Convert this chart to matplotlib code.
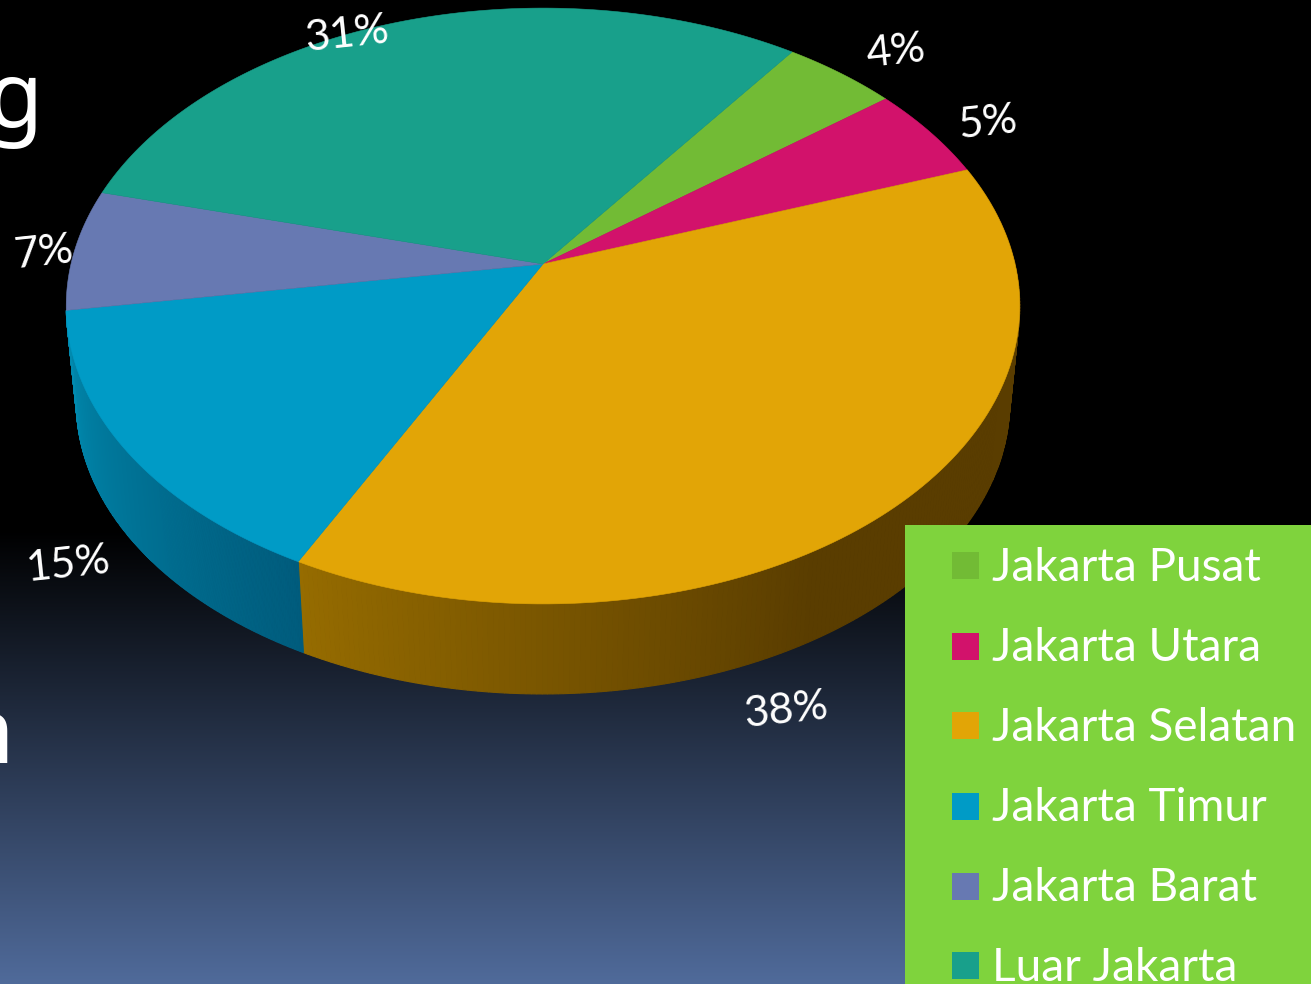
import numpy as np
import matplotlib
matplotlib.use("Agg")
import matplotlib.pyplot as plt
from matplotlib.patches import Polygon, Rectangle

plt.rcParams['font.family'] = ['Lato', 'DejaVu Sans']

categories = ['Jakarta Pusat', 'Jakarta Utara', 'Jakarta Selatan',
              'Jakarta Timur', 'Jakarta Barat', 'Luar Jakarta']
values = [4.47, 5.05, 37.97, 15.03, 6.55, 30.93]
pct_labels = ['4%', '5%', '38%', '15%', '7%', '31%']
colors = ['#72BB35', '#D2126B', '#E2A506', '#009BC6', '#6779B2', '#18A08B']

# where the percent labels sit, in pixels
label_x = [896, 988, 786, 68, 44, 347]
label_y = [52, 123, 711, 565, 253, 35]

START = 36.0   # degrees clockwise from the back of the pie
CX = 543
PERSP = 0.141


def project(theta, a, b, y0):
    # unit disc -> screen, with a little perspective so the centre sits high
    t = np.radians(theta)
    u, v = np.sin(t), np.cos(t)
    w = 1 + PERSP * v
    return CX + a * u / w, y0 - b * v / w


def top(theta):
    return project(theta, 472, 292, 264)


def bottom(theta):
    return project(theta, 462, 286, 361)


def side_color(i, theta):
    # rough shading read off the rim of the picture
    if i == 3:
        f = (theta - 207.0) / 54.0
        c0, c1 = np.array([0, 92, 125]), np.array([0, 138, 175])
    else:
        f = np.clip((theta - 150) / 57.0, 0, 1)
        c0, c1 = np.array([90, 61, 0]), np.array([150, 108, 0])
    return (c0 + (c1 - c0) * f) / 255


fig = plt.figure(figsize=(13.11, 9.84), dpi=100, facecolor='black')
ax = fig.add_axes([0, 0, 1, 1])

# background gradient
rows = np.arange(984)
frac = np.clip((rows - 530) / (984 - 530), 0, 1)
grad = np.zeros((984, 1, 3))
grad[:, 0, 0] = frac * 80 / 255
grad[:, 0, 1] = frac * 107 / 255
grad[:, 0, 2] = frac * 155 / 255
ax.imshow(grad, extent=(0, 1311, 984, 0), aspect='auto', zorder=0)

edges = START + np.cumsum([0] + values) * 3.6

# side wall, only orange and blue can be seen
for i in [2, 3]:
    th = np.linspace(edges[i], edges[i + 1], 240)
    for t0, t1 in zip(th[:-1], th[1:]):
        xa, ya = top(t0)
        xb, yb = top(t1)
        xc, yc = bottom(t1)
        xd, yd = bottom(t0)
        col = side_color(i, (t0 + t1) / 2)
        ax.add_patch(Polygon([(xa, ya), (xb, yb), (xc, yc), (xd, yd)],
                             facecolor=col, edgecolor=col, lw=0.8, zorder=2))

# top face
for i in range(len(values)):
    th = np.linspace(edges[i], edges[i + 1], 120)
    xs, ys = top(th)
    pts = [(CX, 264)] + list(zip(xs, ys))
    ax.add_patch(Polygon(pts, facecolor=colors[i], edgecolor=colors[i], lw=0.4, zorder=3))

# percent labels
for s, x, y in zip(pct_labels, label_x, label_y):
    ax.text(x, y, s, color='white', fontsize=31, rotation=6, ha='center', va='center', zorder=5)

# leftover letters from the slide behind the chart
ax.text(43, 127, 'g', color='white', fontsize=66, ha='right', va='baseline',
        family='Noto Sans', zorder=1)
ax.text(14, 763, 'n', color='white', fontsize=66, ha='right', va='baseline',
        family='Noto Sans', zorder=1)

# legend box, runs off the bottom of the picture
ax.add_patch(Rectangle((905, 525), 406, 459, facecolor='#7FD33D', edgecolor='none', zorder=6))
swatch_top = [552, 633, 712, 793, 873, 952]
baseline = [581, 661, 741, 821, 901, 981]
for name, col, sy, by in zip(categories, colors, swatch_top, baseline):
    ax.add_patch(Rectangle((952, sy), 27, 27, facecolor=col, edgecolor='none', zorder=7))
    ax.text(992, by, name, color='white', fontsize=33, ha='left', va='baseline', zorder=7)

ax.set_xlim(0, 1311)
ax.set_ylim(984, 0)
ax.axis('off')

plt.savefig('out.png', dpi=100, facecolor='black')
